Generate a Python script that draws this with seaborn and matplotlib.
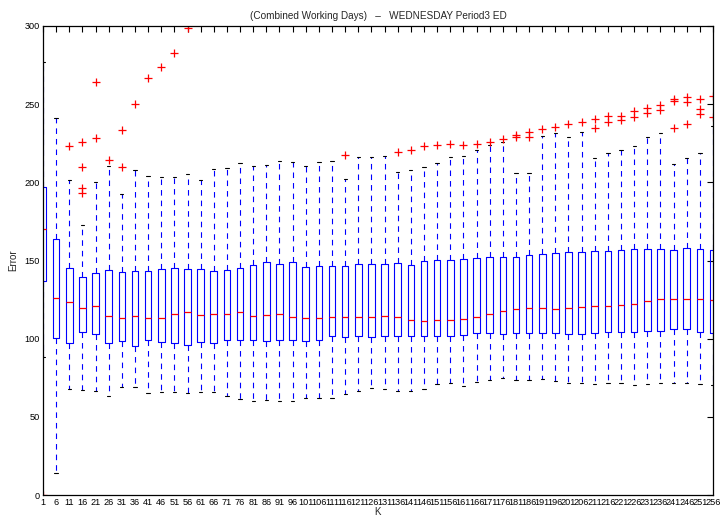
import numpy as np
import pandas as pd
import matplotlib
matplotlib.use("Agg")
import matplotlib.pyplot as plt
import seaborn as sns

# ---- data ----
K = list(range(1, 257, 5))  # 1, 6, ..., 256

whisker_low = [88.0, 13.9, 67.6, 67.0, 66.7, 63.1, 68.9, 69.1, 65.0, 65.7, 65.9, 65.0, 65.7,
               65.7, 63.5, 61.4, 59.9, 60.8, 60.1, 60.3, 61.8, 61.8, 61.8, 64.6, 66.7, 68.2,
               67.6, 66.5, 66.5, 68.0, 71.0, 71.6, 69.9, 72.1, 73.6, 75.0, 73.4, 73.4, 74.0,
               73.1, 71.9, 71.6, 70.8, 71.6, 71.9, 70.2, 70.8, 71.6, 71.6, 71.6, 71.0, 70.4]
q1 = [137.0, 100.2, 97.2, 104.1, 102.8, 97.4, 98.7, 95.5, 99.4, 97.9, 97.0, 96.2, 98.1,
      97.4, 99.0, 99.0, 99.0, 98.3, 99.0, 99.0, 98.3, 99.0, 101.5, 101.0, 101.5, 101.3,
      101.5, 101.7, 101.9, 101.5, 101.7, 101.7, 102.6, 103.4, 103.4, 103.2, 103.4, 103.8, 103.8,
      103.4, 102.8, 103.2, 103.8, 104.1, 104.1, 104.1, 104.7, 104.7, 106.2, 106.2, 104.5, 103.4]
median = [170.0, 126.2, 123.3, 119.4, 120.9, 114.3, 113.2, 114.3, 113.4, 113.4, 115.6, 116.9, 115.1,
          116.0, 115.6, 117.3, 114.5, 115.4, 115.6, 114.0, 113.4, 113.4, 113.9, 113.6, 114.0, 113.6,
          114.5, 113.9, 112.1, 111.1, 112.1, 112.1, 112.6, 114.0, 115.8, 117.7, 119.2, 119.8, 119.4,
          119.0, 119.4, 120.3, 120.9, 120.7, 121.3, 122.4, 124.3, 125.2, 125.4, 125.4, 125.6, 124.8]
q3 = [197.0, 163.6, 145.4, 139.4, 142.0, 143.7, 142.4, 143.3, 143.1, 144.3, 145.4, 144.6, 144.6,
      143.3, 144.1, 145.0, 147.1, 148.8, 147.5, 148.8, 146.0, 146.3, 146.7, 146.3, 148.0, 147.6,
      147.8, 148.2, 147.1, 149.9, 150.1, 150.1, 150.8, 151.6, 152.2, 152.4, 152.2, 153.3, 154.4,
      154.8, 155.2, 155.2, 156.1, 156.1, 156.5, 157.2, 157.2, 157.2, 156.9, 158.2, 157.4, 156.7]
whisker_high = [277.0, 241.0, 201.3, 172.7, 200.0, 210.7, 192.3, 208.1, 204.0, 203.2, 203.2, 205.3, 201.5,
                208.8, 209.0, 212.4, 210.5, 211.3, 213.4, 213.0, 210.2, 213.2, 213.4, 202.3, 216.0, 216.0,
                216.6, 206.8, 207.7, 209.6, 212.4, 216.0, 216.6, 220.5, 223.9, 226.0, 206.2, 205.8, 229.9,
                231.6, 229.0, 232.2, 215.8, 218.8, 220.7, 223.5, 229.2, 231.8, 211.7, 215.4, 218.6, 236.1]
outliers = [[0.0], [], [223.0], [225.6, 209.8, 196.6, 193.2], [264.0, 228.2], [214.5], [233.3, 210.0],
            [250.3], [267.0], [273.8], [283.0], [299.0], [],
            [], [], [], [], [], [], [], [], [], [], [217.3], [], [],
            [], [219.6], [220.7], [223.0], [223.7], [224.7], [223.7], [224.7], [226.0], [227.5],
            [228.8, 230.3], [229.2, 232.4], [233.9],
            [235.6], [237.3], [238.8], [240.5, 235.0], [242.2, 238.6], [242.4, 240.1], [245.6, 241.8],
            [247.7, 244.6], [249.3, 246.5], [253.1, 252.2, 235.0], [254.8, 251.6, 237.5],
            [253.1, 247.0, 244.0], [255.0, 242.0]]

# Sample set per K that reproduces the read quartiles, whiskers and outliers
rows = []
for k, lo, a, m, b, hi, fl in zip(K, whisker_low, q1, median, q3, whisker_high, outliers):
    vals = [lo] + [a] * 10 + [m] * 5 + [b] * 10 + [hi] + list(fl)
    rows += [(k, v) for v in vals]
df = pd.DataFrame(rows, columns=["K", "Error"])

# ---- style ----
sns.set_style("white")
plt.rcParams["font.family"] = ["Liberation Sans", "DejaVu Sans"]

fig = plt.figure(figsize=(7.2, 5.23), dpi=100)
ax = fig.add_axes([0.0597, 0.0535, 0.9306, 0.8968])

sns.boxplot(
    data=df, x="K", y="Error", native_scale=True, width=0.5, fill=False,
    linecolor="blue", linewidth=0.8, whis=1.5, ax=ax,
    boxprops=dict(color="blue", linewidth=0.8),
    whiskerprops=dict(color="blue", linestyle=(0, (5, 4.5)), linewidth=0.8),
    capprops=dict(color="black", linewidth=0.8),
    medianprops=dict(color="red", linewidth=0.9),
    flierprops=dict(marker="+", markeredgecolor="red", markerfacecolor="red",
                    markersize=6, markeredgewidth=0.9),
)

ax.set_xlim(1, 256)
ax.set_ylim(0, 300)
ax.set_xticks(K)
ax.set_xticklabels([str(k) for k in K])
ax.set_yticks(np.arange(0, 301, 50))
ax.tick_params(direction="in", top=True, right=True, length=4, width=0.8,
               labelsize=6.6, pad=2, colors="black")
for s in ax.spines.values():
    s.set_linewidth(0.9)
    s.set_color("black")

ax.set_xlabel("K", fontsize=7, labelpad=0)
ax.set_ylabel("Error", fontsize=7, labelpad=5)
ax.set_title("(Combined Working Days)   \u2013   WEDNESDAY Period3 ED", fontsize=7.2, pad=5)

fig.savefig("out.png", dpi=100)
